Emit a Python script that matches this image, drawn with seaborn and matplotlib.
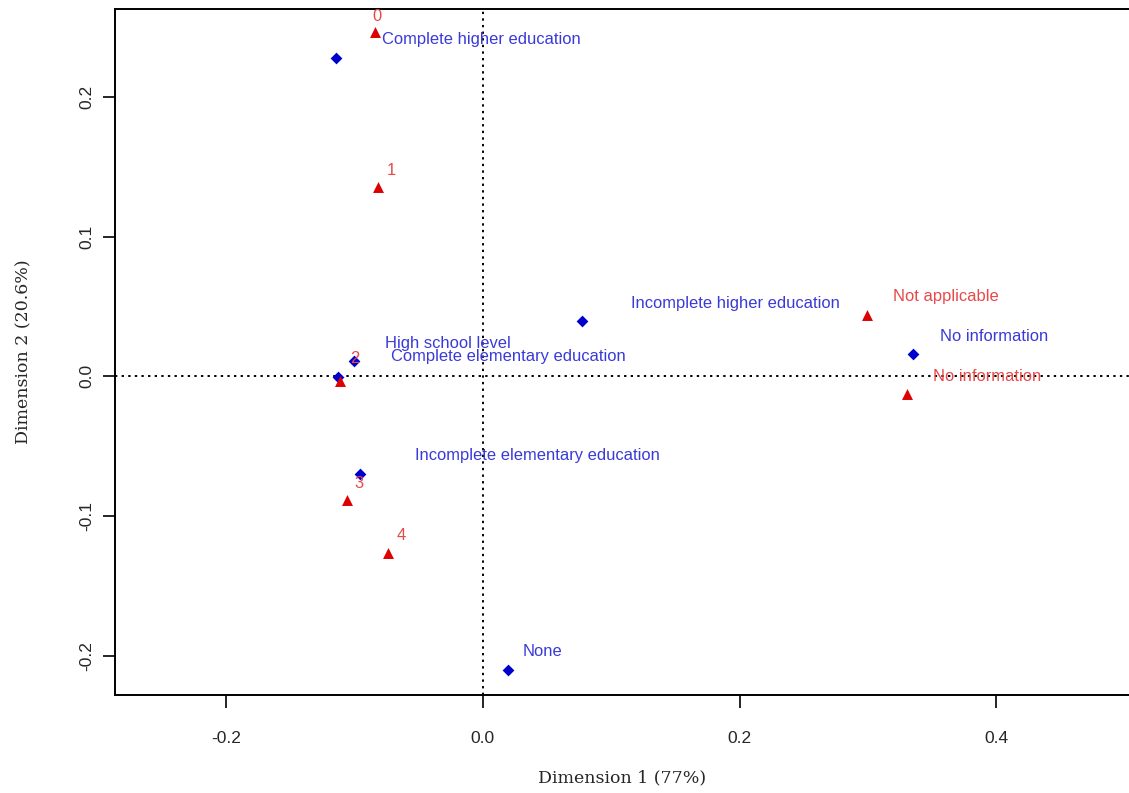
import matplotlib
matplotlib.use("Agg")
import matplotlib.pyplot as plt
import seaborn as sns
import pandas as pd

# Row categories (education level) - blue diamonds
edu_labels = ["Complete higher education", "High school level", "Complete elementary education",
              "Incomplete elementary education", "Incomplete higher education", "No information", "None"]
edu_dim1 = [-0.1143, -0.1002, -0.1127, -0.0955, 0.0775, 0.335, 0.0196]
edu_dim2 = [0.2276, 0.0107, -0.0004, -0.0702, 0.0394, 0.0157, -0.2097]

# Column categories - red triangles
col_labels = ["0", "1", "2", "3", "4", "Not applicable", "No information"]
col_dim1 = [-0.0838, -0.0814, -0.1115, -0.1057, -0.0736, 0.299, 0.330]
col_dim2 = [0.2462, 0.1353, -0.0035, -0.0888, -0.126, 0.0437, -0.0125]

x_ticks = [-0.2, 0.0, 0.2, 0.4]
y_ticks = [-0.2, -0.1, 0.0, 0.1, 0.2]
x_title = "Dimension 1 (77%)"
y_title = "Dimension 2 (20.6%)"

# label offsets in pixels (layout only; +y is up)
edu_off = [(46, 19), (31, 18), (53, 20), (55, 19), (49, 18), (27, 18), (15, 18)]
col_off = [(-3, 16), (8, 17), (10, 23), (7, 17), (8, 17), (26, 19), (26, 17)]

sns.set_style("white")
plt.rcParams['font.family'] = ['Liberation Sans', 'DejaVu Sans']

fig = plt.figure(figsize=(11.29, 7.93), dpi=100)
ax = fig.add_axes([115/1129, 1 - 695/793, 1 - 115/1129, (695 - 9)/793])

edu = pd.DataFrame({"d1": edu_dim1, "d2": edu_dim2, "lab": edu_labels})
col = pd.DataFrame({"d1": col_dim1, "d2": col_dim2, "lab": col_labels})

ax.axvline(0, color="black", linestyle=(0, (1.2, 2.2)), linewidth=1.4, zorder=1)
ax.axhline(0, color="black", linestyle=(0, (1.2, 2.2)), linewidth=1.4, zorder=1)

sns.scatterplot(data=edu, x="d1", y="d2", marker="D", s=36, color="#0000CC",
                edgecolor="#0000CC", linewidth=0, ax=ax, zorder=3)
sns.scatterplot(data=col, x="d1", y="d2", marker="^", s=62, color="#DD0000",
                edgecolor="#DD0000", linewidth=0, ax=ax, zorder=3)

for x, y, t, o in zip(edu_dim1, edu_dim2, edu_labels, edu_off):
    ax.annotate(t, (x, y), xytext=o, textcoords="offset pixels", ha="left", va="center",
                fontsize=11.9, color="#3A3AD8", zorder=4)
for x, y, t, o in zip(col_dim1, col_dim2, col_labels, col_off):
    ax.annotate(t, (x, y), xytext=o, textcoords="offset pixels", ha="left", va="center",
                fontsize=11.9, color="#E84848", zorder=4)

ax.set_xlim(-0.2866, 0.5033)
ax.set_ylim(-0.2279, 0.2627)
ax.set_xticks(x_ticks)
ax.set_yticks(y_ticks)
ax.set_xticklabels([f"{v:.1f}" for v in x_ticks], family=['Liberation Sans Narrow', 'Liberation Sans'], fontsize=12.5)
ax.set_yticklabels([f"{v:.1f}" for v in y_ticks], family=['Liberation Sans Narrow', 'Liberation Sans'], fontsize=12.5,
                   rotation=90, va="center")
ax.tick_params(axis="x", direction="out", length=9, width=1.2, pad=17, color="black", bottom=True)
ax.tick_params(axis="y", direction="out", length=9, width=1.2, pad=6, color="black", left=True)

for side in ["left", "bottom", "top"]:
    ax.spines[side].set_color("black")
    ax.spines[side].set_linewidth(1.4)
ax.spines["right"].set_visible(False)

ax.set_xlabel(x_title, family=['DejaVu Serif'], fontsize=12.5, labelpad=17)
ax.set_ylabel(y_title, family=['DejaVu Serif'], fontsize=12.5, labelpad=34)

fig.savefig("out.png", dpi=100)
